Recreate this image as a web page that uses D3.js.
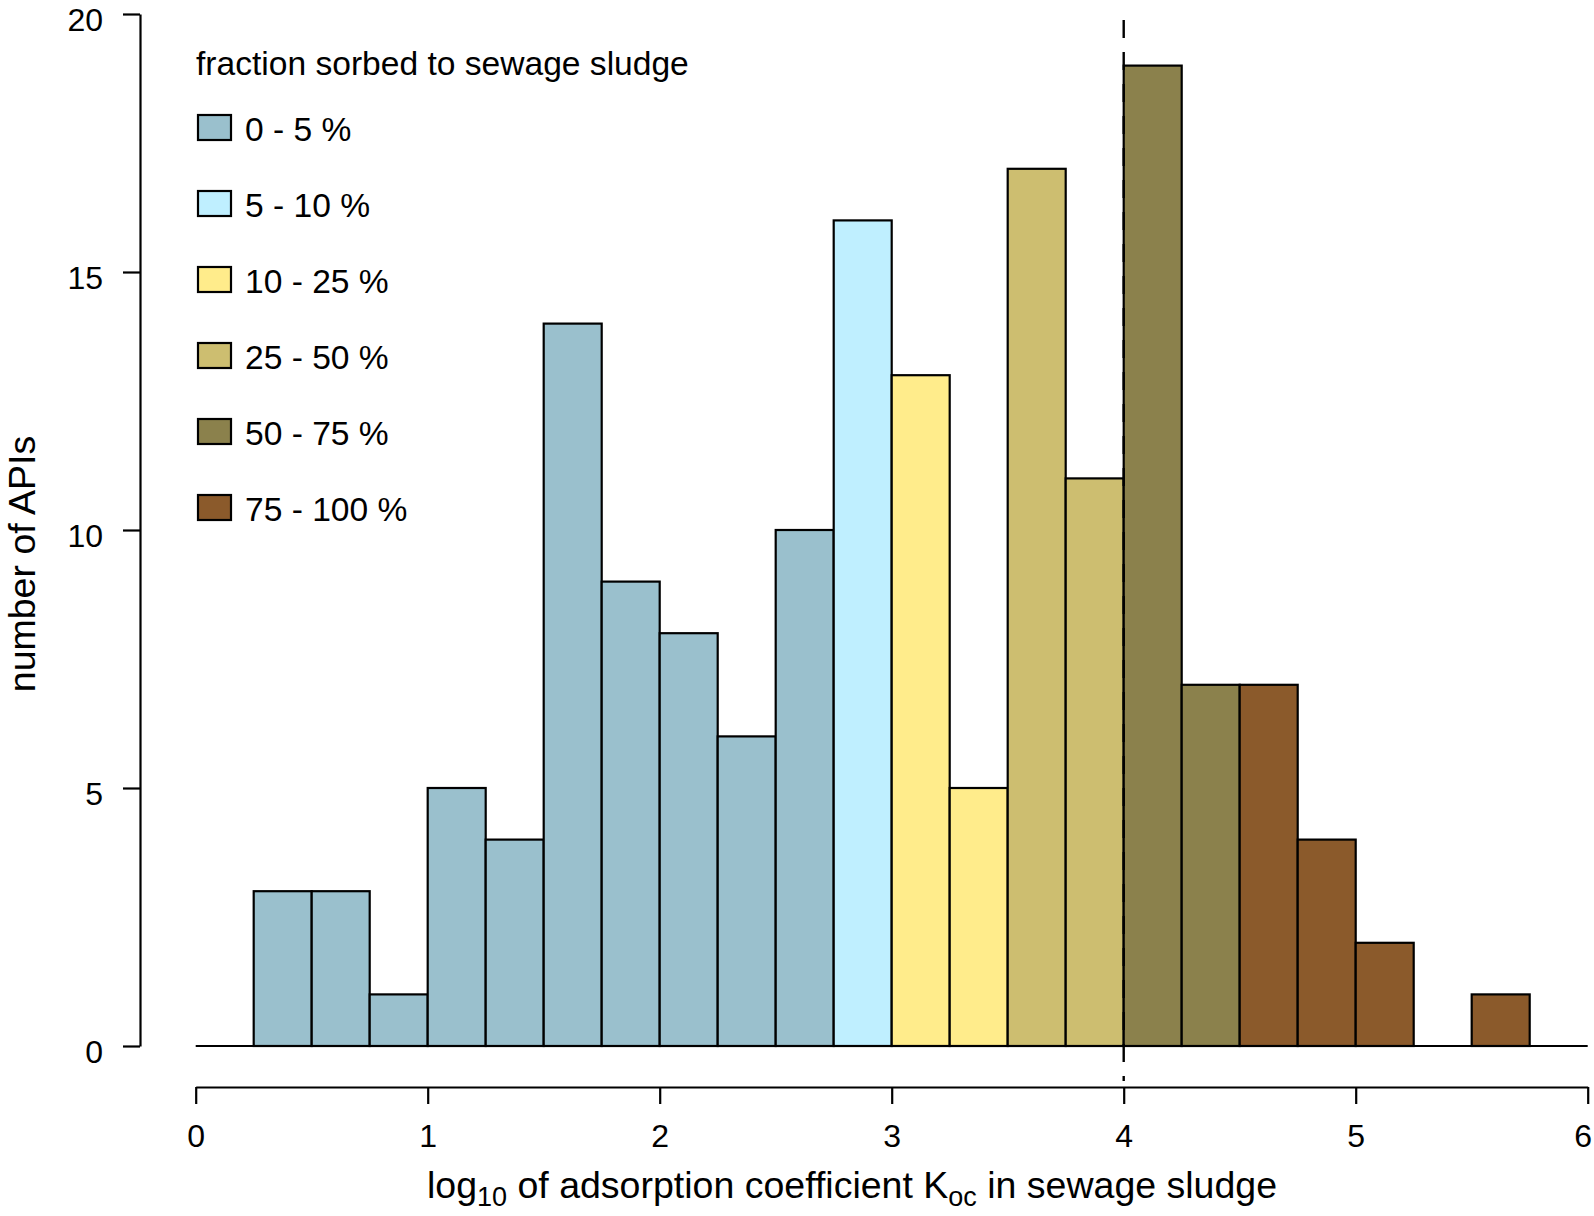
<!DOCTYPE html>
<html>
<head>
<meta charset="utf-8">
<script src="https://cdn.jsdelivr.net/npm/d3@7"></script>
<style>
  html, body { margin: 0; padding: 0; background: #fff; }
  svg { display: block; font-family: "Liberation Sans", Arial, sans-serif; }
</style>
</head>
<body>
<svg id="chart" width="1594" height="1216"></svg>
<script>
// ---- data ----
const binStarts = [0.25, 0.5, 0.75, 1.0, 1.25, 1.5, 1.75, 2.0, 2.25, 2.5, 2.75, 3.0, 3.25, 3.5, 3.75, 4.0, 4.25, 4.5, 4.75, 5.0, 5.25, 5.5];
const counts    = [3, 3, 1, 5, 4, 14, 9, 8, 6, 10, 16, 13, 5, 17, 11, 19, 7, 7, 4, 2, 0, 1];
const classIdx  = [0, 0, 0, 0, 0, 0, 0, 0, 0, 0, 1, 2, 2, 3, 3, 4, 4, 5, 5, 5, 5, 5];
const binWidth = 0.25;
const legendLabels = ["0 - 5 %", "5 - 10 %", "10 - 25 %", "25 - 50 %", "50 - 75 %", "75 - 100 %"];
const legendColors = ["#9AC0CD", "#BFEFFF", "#FFEC8B", "#CDBE70", "#8B814C", "#8B5A2B"];
const legendTitle = "fraction sorbed to sewage sludge";
const xTicks = [0, 1, 2, 3, 4, 5, 6];
const yTicks = [0, 5, 10, 15, 20];
const thresholdX = 4;

// ---- layout ----
const svg = d3.select("#chart");
const x = d3.scaleLinear().domain([0, 6]).range([195.7, 1587.7]);
const y = d3.scaleLinear().domain([0, 20]).range([1046, 14]);
const color = d3.scaleOrdinal().domain(d3.range(6)).range(legendColors);

// bars
svg.append("g").selectAll("rect")
  .data(binStarts.map((s, i) => ({ s, c: counts[i], k: classIdx[i] })).filter(d => d.c > 0))
  .join("rect")
  .attr("x", d => x(d.s))
  .attr("y", d => y(d.c))
  .attr("width", d => x(d.s + binWidth) - x(d.s))
  .attr("height", d => y(0) - y(d.c))
  .attr("fill", d => color(d.k))
  .attr("stroke", "#000")
  .attr("stroke-width", 2.2);

// baseline at zero
svg.append("line")
  .attr("x1", x(0)).attr("x2", x(6))
  .attr("y1", y(0)).attr("y2", y(0))
  .attr("stroke", "#000").attr("stroke-width", 2.2);

// dashed threshold line
svg.append("line")
  .attr("x1", x(thresholdX)).attr("x2", x(thresholdX))
  .attr("y1", 20).attr("y2", 1081)
  .attr("stroke", "#000").attr("stroke-width", 2.4)
  .attr("stroke-dasharray", "18,14");

// y axis
const yAxis = svg.append("g")
  .attr("transform", "translate(140,0)")
  .call(d3.axisLeft(y).tickValues(yTicks).tickFormat(d3.format("d")).tickSize(17).tickSizeOuter(0).tickPadding(20));
yAxis.selectAll("text").attr("font-size", 32).attr("dy", "0.5em").attr("fill", "#000")
  .attr("font-family", "Liberation Sans, Arial, sans-serif");
yAxis.selectAll("path, line").attr("stroke", "#000").attr("stroke-width", 2.2);

// x axis
const xAxis = svg.append("g")
  .attr("transform", "translate(0,1087)")
  .call(d3.axisBottom(x).tickValues(xTicks).tickFormat(d3.format("d")).tickSize(17).tickSizeOuter(0).tickPadding(20));
xAxis.selectAll("text").attr("font-size", 32).attr("fill", "#000")
  .attr("font-family", "Liberation Sans, Arial, sans-serif");
xAxis.selectAll(".tick").filter(d => d === 6).select("text").attr("dx", -5);
xAxis.selectAll("path, line").attr("stroke", "#000").attr("stroke-width", 2.2);

// x label
const xl = svg.append("text")
  .attr("x", 852).attr("y", 1198)
  .attr("text-anchor", "middle")
  .attr("font-size", 37.5).attr("fill", "#000");
xl.append("tspan").text("log");
xl.append("tspan").text("10").attr("font-size", 27).attr("dy", 8);
xl.append("tspan").text(" of adsorption coefficient K").attr("dy", -8);
xl.append("tspan").text("oc").attr("font-size", 27).attr("dy", 8);
xl.append("tspan").text(" in sewage sludge").attr("dy", -8);

// y label
svg.append("text")
  .attr("transform", "translate(35,564) rotate(-90)")
  .attr("text-anchor", "middle")
  .attr("font-size", 37.5).attr("fill", "#000")
  .text("number of APIs");

// legend
const lg = svg.append("g");
lg.append("text").attr("x", 196).attr("y", 75).attr("font-size", 33.6).attr("fill", "#000").text(legendTitle);
const items = lg.selectAll("g.item").data(legendLabels).join("g").attr("class", "item")
  .attr("transform", (d, i) => `translate(0,${115 + i * 76})`);
items.append("rect")
  .attr("x", 198).attr("y", 0).attr("width", 33).attr("height", 25)
  .attr("fill", (d, i) => legendColors[i])
  .attr("stroke", "#000").attr("stroke-width", 2.2);
items.append("text")
  .attr("x", 245).attr("y", 26)
  .attr("font-size", 33.6).attr("fill", "#000")
  .text(d => d);
</script>
</body>
</html>
